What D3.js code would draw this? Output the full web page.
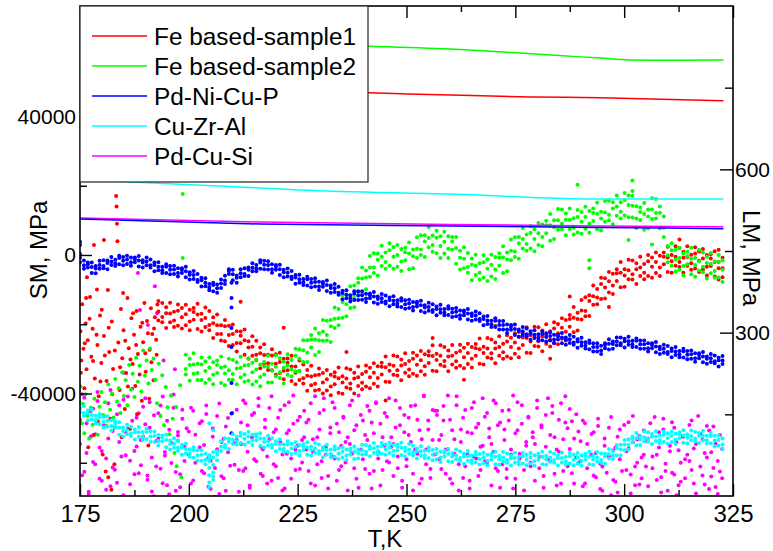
<!DOCTYPE html>
<html>
<head>
<meta charset="utf-8">
<script src="https://d3js.org/d3.v7.min.js"></script>
<style>
body { margin: 0; background: #fff; }
</style>
</head>
<body>
<div id="graph"></div>
<script>

var w = 773;
var h = 551;

// series names and colours (legend order)
var seriesNames = ["Fe based-sample1", "Fe based-sample2", "Pd-Ni-Cu-P", "Cu-Zr-Al", "Pd-Cu-Si"];
var seriesColors = ["#ff0000", "#00ff00", "#0000ff", "#00ffff", "#ff00ff"];

// axis ticks
var xTicks = [175, 200, 225, 250, 275, 300, 325];
var xMinor = [187.5, 212.5, 237.5, 262.5, 287.5, 312.5];
var smTicks = [-40000, 0, 40000];
var smMinor = [-60000, -20000, 20000, 60000];
var lmTicks = [300, 600];
var lmMinor = [150, 450, 750];

// LM, MPa (right axis) lines: [T, LM]
var lmFe1 = [[175, 752], [241.6, 740.5], [260, 736.5], [278.4, 733], [294.5, 731.5], [322.8, 726]];
var lmFe2 = [[175, 845], [200, 836], [225, 829], [241.6, 826], [260, 821], [276, 813.5], [285, 809], [294.5, 804.5], [301.3, 801], [310, 800.5], [322.8, 801]];
var lmPdNiCuP = [[175, 508.8], [216.4, 499.6], [260, 496], [294.5, 493.2], [322.8, 491]];
var lmCuZrAl = [[175, 581], [191.8, 575], [216.4, 565.7], [225.5, 562], [260, 554.5], [294.5, 545.5], [322.8, 545.5]];
var lmPdCuSi = [[175, 510.6], [216.4, 503.3], [260, 498.7], [294.5, 496], [322.8, 494.6]];

// SM (left axis) readings, in units of 1000 MPa: [T, SM, SM, ...]
var smFe1 = [
[175.1,-22.0],[175.2,-34.0],[175.3,-30.5],[175.5,-14.2],[175.8,-27.1],[176.0,-38.5],[176.1,-25.5],[176.3,-19.8],[176.4,-12.4],[176.5,-33.0],[176.6,-6.4],[176.8,-24.6],[176.9,-55.5],[177.0,-45.2],[177.2,-18.4],[177.3,-12.1],[177.6,-29.4],[177.9,-21.3],[178.0,-30.6],[178.1,-52.0],[178.2,2.9],[178.4,-35.7],[178.8,-23.0],[178.9,-10.0],[179.0,-26.0],[179.1,-48.0],[179.3,-40.8],[179.6,-17.5],[179.7,-36.5],[179.9,-31.2],[180.0,-15.8],[180.2,-57.6],[180.5,-23.4,4.3],[180.7,-29.0],[180.9,-62.5],[181.1,-36.4],[181.4,-10.1],[181.5,-64.2],[181.6,-21.0],[181.7,-28.0],[182.0,-47.3],[182.2,-67.8],[182.3,-19.2],[182.4,-40.2],[182.6,-32.9],[182.9,-60.4],[183.0,-27.6],[183.3,17.0],[183.4,14.0],[183.5,9.0],[183.6,4.0],[183.8,-25.3],[184.1,-39.0],[184.2,-32.4],[184.4,-15.6],[184.6,-52.6],[184.7,-29.8],[184.9,-11.0],[185.0,-21.7],[185.3,-44.5],[185.4,-24.8],[185.6,-34.1],[185.9,-12.4],[186.0,-38.0],[186.2,-26.9],[186.5,-50.2],[186.6,-30.2],[186.8,-18.3],[187.1,-31.5],[187.2,-16.8],[187.4,-23.0],[187.7,-37.8],[187.9,-26.0],[188.0,-16.2],[188.1,-46.0],[188.3,-28.6],[188.7,-34.5],[188.9,-20.7],[189.2,-42.1],[189.3,-19.6],[189.5,-25.2],[189.8,-13.9],[190.0,-28.4],[190.1,-33.7],[190.4,-19.1],[190.6,-22.6],[190.7,-55.0],[190.9,-41.5],[191.0,-27.4],[191.3,-15.4],[191.4,-31.0],[191.6,-22.8],[191.9,-36.2],[192.0,-21.2],[192.2,-18.0],[192.5,-24.5],[192.6,-28.8],[192.8,-14.3],
[193.0,-13.3,-18.9,-16.3],[193.9,-17.9,-13.9,-19.4],[194.8,-15.1,-21.1,-16.8],[195.7,-19.4,-16.9,-13.8],[196.6,-16.4,-18.9,-20.8],[197.5,-14.3,-16.1,-20.4],[198.4,-21.2,-18.0,-15.3],[199.3,-17.1,-20.3,-14.4],[200.2,-19.2,-15.8,-21.7],[201.1,-15.3,-18.7,-16.5],[202.0,-21.4,-17.2,-14.1],[202.9,-17.0,-22.1,-18.8],[203.8,-15.2,-20.8,-18.2],[204.7,-20.2,-16.2,-21.7],[205.6,-18.0,-24.0,-19.7],[206.5,-22.8,-20.3,-17.2],[207.4,-20.3,-22.8,-24.7],[208.3,-18.8,-20.6,-24.9],[209.2,-26.3,-23.1,-20.4],[210.1,-22.8,-26.0,-20.1],[211.0,-25.4,-22.0,-27.9],[211.9,-22.1,-25.5,-23.3,-13.5],[212.8,-28.8,-24.6,-21.5],[213.7,-24.9,-30.0,-26.7],[214.6,-23.5,-29.1,-26.5],[215.5,-28.8,-24.8,-30.3],[216.4,-26.7,-32.7,-28.4],[217.3,-31.4,-28.9,-25.8],[218.2,-28.8,-31.3,-33.2],[219.1,-27.2,-29.0,-33.3],[220.0,-34.6,-31.4,-28.7],[220.9,-30.9,-34.1,-28.2],[221.8,-33.4,-30.0,-35.9,-21.0],[222.7,-29.9,-33.3,-31.1],[223.6,-36.4,-32.2,-29.1],[224.5,-32.2,-37.3,-34.0],[225.4,-30.5,-36.1,-33.5],[226.3,-35.6,-31.6,-37.1],[227.2,-33.2,-39.2,-34.9],[228.1,-37.6,-35.1,-32.0],[229.0,-34.7,-37.2,-39.1],[229.9,-32.8,-34.6,-38.9],[230.8,-40.0,-36.8,-34.1],[231.7,-35.9,-39.1,-33.2],[232.6,-38.0,-34.6,-40.5],[233.5,-33.9,-37.3,-35.1],[234.4,-39.8,-35.6,-32.5],[235.3,-35.0,-40.1,-36.8],[236.2,-32.7,-38.3,-35.7,-28.0],[237.1,-37.1,-33.1,-38.6],[238.0,-34.0,-40.0,-35.7],[238.9,-37.8,-35.3,-32.2],[239.8,-34.4,-36.9,-38.8],[240.7,-31.9,-33.7,-38.0],[241.6,-38.5,-35.3,-32.6],[242.5,-34.0,-37.2,-31.3],[243.4,-35.5,-32.1,-38.0],[244.3,-31.1,-34.5,-32.3],[245.2,-36.6,-32.4,-29.3,-42.0],[246.1,-31.6,-36.7,-33.4],[247.0,-29.0,-34.6,-32.0],[247.9,-33.3,-29.3,-34.8],[248.8,-30.2,-36.2,-31.9],[249.7,-34.0,-31.5,-28.4],[250.6,-30.6,-33.1,-35.0],[251.5,-28.2,-30.0,-34.3],[252.4,-34.9,-31.7,-29.0],[253.3,-30.4,-33.6,-27.7],[254.2,-32.1,-28.7,-34.6],[255.1,-27.8,-31.2,-29.0],[256.0,-33.4,-29.2,-26.1,-24.0],[256.9,-28.5,-33.6,-30.3],[257.8,-26.1,-31.7,-29.1],[258.7,-30.6,-26.6,-32.1],[259.6,-27.6,-33.6,-29.3],[260.5,-31.6,-29.1,-26.0],[261.4,-28.2,-30.7,-32.6],[262.3,-25.9,-27.7,-32.0],[263.2,-32.7,-29.5,-26.8,-36.0],[264.1,-28.3,-31.5,-25.6],[265.0,-30.0,-26.6,-32.5],[265.9,-25.7,-29.1,-26.9],[266.8,-31.4,-27.2,-24.1],[267.7,-26.5,-31.6,-28.3],[268.6,-24.0,-29.6,-27.0],[269.5,-28.4,-24.4,-29.9],[270.4,-25.3,-31.3,-27.0,-20.5],[271.3,-29.1,-26.6,-23.5],[272.2,-25.6,-28.1,-30.0],[273.1,-23.2,-25.0,-29.3],[274.0,-29.8,-26.6,-23.9],[274.9,-25.3,-28.5,-22.6],[275.8,-27.0,-23.6,-29.5],[276.7,-22.6,-26.0,-23.8],[277.6,-28.2,-24.0,-20.9],[278.5,-23.2,-28.3,-25.0],[279.4,-20.7,-26.3,-23.7],[280.3,-24.9,-20.9,-26.4],[281.2,-21.8,-27.8,-23.5],[282.1,-25.6,-23.1,-20.0],[283.0,-22.0,-24.5,-26.4,-30.0],[283.9,-19.4,-21.2,-25.5],[284.8,-25.8,-22.6,-19.9],[285.7,-21.0,-24.2,-18.3],[286.6,-22.2,-18.8,-24.7],[287.5,-17.3,-20.7,-18.5,-12.0],[288.4,-22.3,-18.1,-15.0],[289.3,-16.7,-21.8,-18.5],[290.2,-13.0,-18.6,-16.0],[291.1,-16.2,-12.2,-17.7],[292.0,-11.6,-17.6,-13.3],[292.9,-14.4,-11.9,-8.8],[293.8,-9.8,-12.3,-14.2],[294.7,-6.6,-8.4,-12.7],[295.6,-12.6,-9.4,-6.7],[296.5,-7.6,-10.8,-4.9,-15.0],[297.4,-8.8,-5.4,-11.3],[298.3,-4.1,-7.5,-5.3],[299.2,-9.3,-5.1,-2.0],[300.1,-4.1,-9.2,-5.9],[301.0,-1.4,-7.0,-4.4],[301.9,-5.6,-1.6,-7.1],[302.8,-2.4,-8.4,-4.1],[303.7,-6.1,-3.6,-0.5],[304.6,-2.6,-5.1,-7.0],[305.5,0.0,-1.8,-6.1],[306.4,-6.6,-3.4,-0.7],[307.3,-2.0,-5.2,0.7],[308.2,-3.6,-0.2,-6.1],[309.1,0.7,-2.7,-0.5],[310.0,-4.9,-0.7,2.4],[310.9,0.0,-5.1,-1.8],[311.8,2.5,-3.1,-0.5],[312.7,-2.0,2.0,-3.5,4.5],[313.6,0.9,-5.1,-0.8],[314.5,-3.1,-0.6,2.5],[315.4,0.1,-2.4,-4.3],[316.3,2.2,0.4,-3.9],[317.2,-4.9,-1.7,1.0],[318.1,-1.0,-4.2,1.7],[319.0,-3.4,0.0,-5.9],[319.9,0.2,-3.2,-1.0],[320.8,-6.2,-2.0,1.1],[321.7,-2.0,-7.1,-3.8,1.5],[322.6,-0.8,-6.4,-3.8]
];

var smFe2 = [
[175.1,-38.0],[175.4,-48.6],[175.7,-43.0],[176.0,-51.5],[176.3,-40.2],[176.7,-46.4],[177.1,-53.0],[177.5,-44.1],[177.9,-49.0],[178.3,-41.5],[178.7,-47.7],[179.1,-51.9],[179.5,-43.8],[179.9,-39.6],[180.3,-46.2],[180.7,-42.5],[181.1,-49.3],[181.5,-37.4],[181.9,-44.7],[182.3,-40.1],[182.7,-46.9],[183.1,-35.8],[183.5,-42.3],[183.9,-38.5],[184.3,-45.6],[184.7,-33.9],[185.1,-40.7],[185.5,-36.2],[185.9,-43.4],[186.3,-31.8],[186.7,-38.9],[187.1,-34.3],[187.5,-41.0],[187.9,-29.7],[188.3,-36.6],[188.7,-32.0],[189.1,-39.4],[189.5,-27.6],[189.9,-34.8],[190.3,-30.5],[190.7,-37.1],[191.1,-27.0],[191.5,-33.2],[191.9,-29.9],[192.3,-36.0],[192.7,-42.8],[193.1,-31.4],[193.5,-46.5],[193.9,-34.7],[194.3,-49.2],[194.7,-38.1],[195.1,-44.0],[195.5,-51.8],[195.9,-40.6],[196.3,-47.3],[196.7,-57.2],[197.1,-43.9],[197.2,-61.0],[197.5,-53.6],[198.0,-37.6],[198.3,-64.2],[198.6,17.6,-0.9],
[199.3,-32.9,-28.8,-34.5],[200.2,-30.0,-36.3,-31.8],[201.1,-34.3,-31.6,-28.4],[202.0,-31.4,-34.1,-36.1],[202.9,-29.6,-31.6,-36.1],[203.8,-37.0,-33.5,-30.7],[204.7,-32.5,-35.9,-29.6],[205.6,-34.6,-31.0,-37.3],[206.5,-30.5,-34.1,-31.8],[207.4,-37.0,-32.5,-29.3],[208.3,-32.2,-37.6,-34.2],[209.2,-30.0,-36.0,-33.3],[210.1,-34.4,-30.3,-36.0],[211.0,-31.0,-37.3,-32.8],[211.9,-35.3,-32.6,-29.4],[212.8,-31.9,-34.6,-36.6],[213.7,-29.8,-31.8,-36.3],[214.6,-37.4,-33.9,-31.1],[215.5,-33.1,-36.5,-30.2],[216.4,-35.2,-31.6,-37.9],[217.3,-30.9,-34.5,-32.2],[218.2,-36.8,-32.3,-29.1],[219.1,-31.4,-36.8,-33.4],[220.0,-29.0,-35.0,-32.3],[220.9,-33.9,-29.8,-35.5],[221.8,-30.8,-37.1,-32.6],[222.7,-34.6,-31.9,-28.7],[223.6,-30.3,-33.0,-35.0],[224.5,-27.1,-29.1,-33.6],[225.4,-33.5,-30.0,-27.2],[226.3,-27.5,-30.9,-24.6],[227.2,-28.2,-24.6,-30.9],[228.1,-23.1,-26.7,-24.4],[229.0,-28.9,-24.4,-21.2],[229.9,-22.6,-28.0,-24.6],[230.8,-18.8,-24.8,-22.1],[231.7,-23.1,-19.0,-24.7],[232.6,-18.8,-25.1,-20.6],[233.5,-21.1,-18.4,-15.2],[234.4,-15.6,-18.3,-20.3],[235.3,-11.6,-13.6,-18.1],[236.2,-17.7,-14.2,-11.4],[237.1,-11.9,-15.3,-9.0],[238.0,-12.4,-8.8,-15.1],[238.9,-6.7,-10.3,-8.0],[239.8,-11.3,-6.8,-3.6],[240.7,-4.5,-9.9,-6.5],[241.6,-0.3,-6.3,-3.6],[242.5,-3.6,0.5,-5.2],[243.4,0.4,-5.9,-1.4],[244.3,-3.2,-0.5,2.7],[245.2,0.7,-2.0,-4.0],[246.1,3.4,1.4,-3.1],[247.0,-4.0,-0.5,2.3],[247.9,0.0,-3.4,2.9],[248.8,-1.9,1.7,-4.6],[249.7,2.1,-1.5,0.8],[250.6,-4.1,0.4,3.6],[251.5,1.6,-3.8,-0.4],[252.4,5.1,-0.9,1.8],[253.3,1.6,5.7,0.0],[254.2,5.7,-0.6,3.9],[255.1,2.2,4.9,8.1],[256.0,5.6,2.9,0.9],[256.9,7.0,5.0,0.5],[257.8,-0.9,2.6,5.4],[258.7,3.8,0.4,6.7],[259.6,1.8,5.4,-0.9],[260.5,5.2,1.6,3.9],[261.4,-2.5,2.0,5.2],[262.3,1.2,-4.2,-0.8],[263.2,2.2,-3.8,-1.1],[264.1,-3.5,0.6,-5.1],[265.0,-1.0,-7.3,-2.8],[265.9,-5.8,-3.1,0.1],[266.8,-2.4,-5.1,-7.1],[267.7,-0.1,-2.1,-6.6],[268.6,-7.5,-4.0,-1.2],[269.5,-2.8,-6.2,0.1],[270.4,-4.2,-0.6,-6.9],[271.3,0.5,-3.1,-0.8],[272.2,-5.2,-0.7,2.5],[273.1,0.7,-4.7,-1.3],[274.0,4.5,-1.5,1.2],[274.9,1.0,5.1,-0.6],[275.8,5.2,-1.1,3.4],[276.7,1.9,4.6,7.8],[277.6,5.9,3.2,1.2],[278.5,8.4,6.4,1.9],[279.4,1.1,4.6,7.4],[280.3,6.3,2.9,9.2],[281.2,5.2,8.8,2.5],[282.1,9.9,6.3,8.6],[283.0,4.1,8.6,11.8],[283.9,10.0,4.6,8.0],[284.8,13.3,7.3,10.0],[285.7,9.0,13.1,7.4],[286.6,12.0,5.7,10.2],[287.5,7.5,10.2,13.4],[288.4,10.6,7.9,5.9],[289.3,13.0,11.0,6.5,20.3],[290.2,6.1,9.6,12.4],[291.1,11.0,7.6,13.9],[292.0,9.1,12.7,6.4,-3.8,-1.5],[292.9,13.4,9.8,12.1],[293.8,7.4,11.9,15.1],[294.7,12.5,7.1,10.5],[295.6,15.6,9.6,12.3],[296.5,11.6,15.7,10.0],[297.4,15.2,8.9,13.4],[298.3,11.3,14.0,17.2],[299.2,15.2,12.5,10.5],[300.1,17.9,15.9,11.4],[301.0,10.9,14.4,17.2,4.3],[301.9,14.2,10.8,17.1,21.5,18.5],[302.8,10.5,14.1,7.8],[303.7,13.7,10.1,12.4],[304.6,7.3,11.8,15.0],[305.5,13.1,7.7,11.1],[306.4,16.4,10.4,13.1,3.0],[307.3,12.1,16.2,10.5],[308.2,14.0,7.7,12.2],[309.1,5.2,7.9,11.1],[310.0,2.6,-0.1,-2.1],[310.9,3.4,1.4,-3.1],[311.8,-4.8,-1.3,1.5],[312.7,-0.9,-4.3,2.0],[313.6,-3.2,0.4,-5.9],[314.5,0.9,-2.7,-0.4],[315.4,-5.6,-1.1,2.1],[316.3,-0.9,-6.3,-2.9],[317.2,1.5,-4.5,-1.8],[318.1,-3.4,0.7,-5.0],[319.0,-0.5,-6.8,-2.3],[319.9,-5.3,-2.6,0.6],[320.8,-1.9,-4.6,-6.6],[321.7,0.0,-2.0,-6.5],[322.6,-7.8,-4.3,-1.5]
];

var smPdNiCuP = [
[175.0,-0.8,-2.1,0.3,3.8,2.9],[175.9,-3.0,-1.6,-4.0],[176.8,-2.2,-3.6,-2.7],[177.7,-5.2,-3.5,-2.2],[178.6,-3.2,-5.3,-3.9],[179.5,-1.7,-4.0,-2.9],[180.4,-3.2,-1.5,-3.8],[181.3,-1.6,-4.1,-2.3],[182.2,-2.9,-1.9,-0.6],[183.1,-1.4,-2.4,-3.2],[184.0,-0.2,-0.9,-2.7],[184.9,-3.0,-1.7,-0.6],[185.8,-1.3,-2.6,-0.2],[186.7,-2.1,-0.7,-3.1],[187.6,-0.7,-2.1,-1.2],[188.5,-3.3,-1.6,-0.3],[189.4,-1.5,-3.6,-2.2],[190.3,-0.7,-3.0,-1.9],[191.2,-3.0,-1.3,-3.6],[192.1,-2.2,-4.7,-2.9],[193.0,-4.4,-3.4,-2.1],[193.9,-3.4,-4.4,-5.2],[194.8,-2.7,-3.4,-5.2],[195.7,-5.6,-4.3,-3.2],[196.6,-4.2,-5.5,-3.1],[197.5,-5.2,-3.8,-6.2],[198.4,-3.8,-5.2,-4.3],[199.3,-6.4,-4.7,-3.4],[200.2,-5.0,-7.1,-5.7],[201.1,-4.6,-6.9,-5.8],[202.0,-7.2,-5.5,-7.8],[202.9,-6.6,-9.1,-7.3],[203.8,-9.0,-8.0,-6.7],[204.7,-8.4,-9.4,-10.2],[205.6,-8.0,-8.7,-10.5],[206.5,-10.9,-9.6,-8.5],[207.4,-8.2,-9.5,-7.1],[208.3,-7.4,-6.0,-8.4],[209.2,-4.1,-5.5,-4.6],[209.8,-8.0,-12.4,-15.2,-21.1,-26.6,-37.0,-45.8,-51.5],[210.1,-7.3,-5.6,-4.3],[211.0,-5.9,-8.0,-6.6],[211.9,-4.1,-6.4,-5.3],[212.8,-5.5,-3.8,-6.1],[213.7,-3.6,-6.1,-4.3],[214.6,-4.7,-3.7,-2.4],[215.5,-2.9,-3.9,-4.7],[216.4,-1.5,-2.2,-4.0],[217.3,-4.1,-2.8,-1.7],[218.2,-2.9,-4.2,-1.8],[219.1,-4.1,-2.7,-5.1],[220.0,-2.9,-4.3,-3.4],[220.9,-5.8,-4.1,-2.8],[221.8,-4.3,-6.4,-5.0],[222.7,-3.9,-6.2,-5.1],[223.6,-6.3,-4.6,-6.9],[224.5,-5.8,-8.3,-6.5],[225.4,-8.0,-7.0,-5.7],[226.3,-6.9,-7.9,-8.7],[227.2,-6.3,-7.0,-8.8],[228.1,-9.3,-8.0,-6.9],[229.0,-7.8,-9.1,-6.7],[229.9,-9.1,-7.7,-10.1],[230.8,-7.8,-9.2,-8.3],[231.7,-10.4,-8.7,-7.4],[232.6,-8.8,-10.9,-9.5],[233.5,-8.4,-10.7,-9.6],[234.4,-10.9,-9.2,-11.5],[235.3,-10.3,-12.8,-11.0],[236.2,-12.5,-11.5,-10.2],[237.1,-11.6,-12.6,-13.4],[238.0,-10.5,-11.2,-13.0],[238.9,-13.0,-11.7,-10.6],[239.8,-11.6,-12.9,-10.5],[240.7,-12.6,-11.2,-13.6],[241.6,-11.1,-12.5,-11.6],[242.5,-13.7,-12.0,-10.7],[243.4,-12.0,-14.1,-12.7],[244.3,-11.3,-13.6,-12.5],[245.2,-13.4,-11.7,-14.0],[246.1,-12.3,-14.8,-13.0],[247.0,-14.2,-13.2,-11.9],[247.9,-13.1,-14.1,-14.9],[248.8,-12.5,-13.2,-15.0],[249.7,-15.5,-14.2,-13.1],[250.6,-14.0,-15.3,-12.9],[251.5,-15.0,-13.6,-16.0],[252.4,-13.5,-14.9,-14.0],[253.3,-16.2,-14.5,-13.2],[254.2,-14.5,-16.6,-15.2],[255.1,-13.8,-16.1,-15.0],[256.0,-15.9,-14.2,-16.5],[256.9,-14.9,-17.4,-15.6],[257.8,-16.7,-15.7,-14.4],[258.7,-15.6,-16.6,-17.4],[259.6,-14.8,-15.5,-17.3],[260.5,-17.9,-16.6,-15.5],[261.4,-16.4,-17.7,-15.3],[262.3,-17.4,-16.0,-18.4],[263.2,-16.0,-17.4,-16.5],[264.1,-18.6,-16.9,-15.6],[265.0,-16.9,-19.0,-17.6],[265.9,-16.3,-18.6,-17.5],[266.8,-18.5,-16.8,-19.1],[267.7,-17.8,-20.3,-18.5],[268.6,-19.9,-18.9,-17.6],[269.5,-19.0,-20.0,-20.8],[270.4,-18.3,-19.0,-20.8],[271.3,-21.5,-20.2,-19.1],[272.2,-20.2,-21.5,-19.1],[273.1,-21.5,-20.1,-22.5],[274.0,-20.2,-21.6,-20.7],[274.9,-23.1,-21.4,-20.1],[275.8,-21.5,-23.6,-22.2],[276.7,-20.8,-23.1,-22.0],[277.6,-22.9,-21.2,-23.5],[278.5,-22.0,-24.5,-22.7],[279.4,-24.0,-23.0,-21.7],[280.3,-22.9,-23.9,-24.7],[281.2,-22.1,-22.8,-24.6],[282.1,-25.0,-23.7,-22.6],[283.0,-23.4,-24.7,-22.3],[283.9,-24.4,-23.0,-25.4],[284.8,-23.0,-24.4,-23.5],[285.7,-25.5,-23.8,-22.5],[286.6,-23.8,-25.9,-24.5],[287.5,-23.1,-25.4,-24.3],[288.4,-25.3,-23.6,-25.9],[289.3,-24.3,-26.8,-25.0],[290.2,-26.2,-25.2,-23.9],[291.1,-25.2,-26.2,-27.0],[292.0,-24.7,-25.4,-27.2],[292.9,-27.9,-26.6,-25.5],[293.8,-26.6,-27.9,-25.5],[294.7,-27.6,-26.2,-28.6],[295.6,-25.5,-26.9,-26.0],[296.5,-27.3,-25.6,-24.3],[297.4,-25.0,-27.1,-25.7],[298.3,-23.8,-26.1,-25.0],[299.2,-25.5,-23.8,-26.1],[300.1,-24.2,-26.7,-24.9],[301.0,-25.9,-24.9,-23.6],[301.9,-24.8,-25.8,-26.6],[302.8,-24.1,-24.8,-26.6],[303.7,-27.1,-25.8,-24.7],[304.6,-25.8,-27.1,-24.7],[305.5,-26.9,-25.5,-27.9],[306.4,-25.5,-26.9,-26.0],[307.3,-28.1,-26.4,-25.1],[308.2,-26.5,-28.6,-27.2],[309.1,-25.9,-28.2,-27.1],[310.0,-28.0,-26.3,-28.6],[310.9,-27.0,-29.5,-27.7],[311.8,-28.9,-27.9,-26.6],[312.7,-27.7,-28.7,-29.5],[313.6,-27.1,-27.8,-29.6],[314.5,-30.1,-28.8,-27.7],[315.4,-28.7,-30.0,-27.6],[316.3,-29.8,-28.4,-30.8],[317.2,-28.4,-29.8,-28.9],[318.1,-31.0,-29.3,-28.0],[319.0,-29.3,-31.4,-30.0],[319.9,-28.6,-30.9,-29.8],[320.8,-30.7,-29.0,-31.3],[321.7,-29.7,-32.2,-30.4],[322.6,-31.5,-30.5,-29.2]
];

var smCuZrAl = [
[175.0,-42.6,-45.4,-44.2],[175.9,-45.6,-43.7,-46.4],[176.8,-44.9,-47.8,-45.7],[177.7,-47.5,-46.2,-44.7],[178.6,-46.4,-47.7,-48.6],[179.5,-45.9,-46.8,-48.9],[180.4,-49.8,-48.2,-46.8],[181.3,-47.9,-49.6,-46.6],[182.2,-49.4,-47.7,-50.7],[183.1,-48.1,-49.8,-48.7],[184.0,-51.9,-49.8,-48.3],[184.9,-49.8,-52.4,-50.8],[185.8,-49.0,-51.8,-50.6],[186.7,-51.5,-49.6,-52.3],[187.6,-50.4,-53.3,-51.2],[188.5,-52.5,-51.2,-49.7],[189.4,-51.1,-52.4,-53.3],[190.3,-50.2,-51.1,-53.2],[191.2,-54.0,-52.4,-51.0],[192.1,-52.3,-54.0,-51.0],[193.0,-53.7,-52.0,-55.0],[193.9,-52.1,-53.8,-52.7],[194.8,-55.5,-53.4,-51.9],[195.7,-53.6,-56.2,-54.6],[196.6,-52.9,-55.7,-54.5],[197.5,-55.7,-53.8,-56.5],[198.4,-54.8,-57.7,-55.6],[199.3,-57.3,-56.0,-54.5],[200.2,-56.1,-57.4,-58.3],[201.1,-55.5,-56.4,-58.5],[202.0,-59.4,-57.8,-56.4],[202.9,-57.7,-59.4,-56.4],[203.8,-59.1,-57.4,-60.4],[204.7,-57.8,-59.5,-58.4,-63.6,-65.7,-67.0,-61.5,-48.6],[205.6,-60.6,-58.5,-57.0,-64.0,-62.8,-65.0,-50.6],[206.5,-56.7,-59.3,-57.7],[207.4,-53.8,-56.6,-55.4],[208.3,-54.8,-52.9,-55.6],[209.2,-53.1,-56.0,-53.9],[210.1,-54.6,-53.3,-51.8],[211.0,-52.5,-53.8,-54.7],[211.9,-51.3,-52.2,-54.3],[212.8,-54.7,-53.1,-51.7],[213.7,-52.4,-54.1,-51.1],[214.6,-53.6,-51.9,-54.9],[215.5,-51.8,-53.5,-52.4],[216.4,-55.1,-53.0,-51.5],[217.3,-53.0,-55.6,-54.0],[218.2,-52.2,-55.0,-53.8],[219.1,-54.8,-52.9,-55.6],[220.0,-53.8,-56.7,-54.6],[220.9,-56.0,-54.7,-53.2],[221.8,-54.7,-56.0,-56.9],[222.7,-53.8,-54.7,-56.8],[223.6,-57.5,-55.9,-54.5],[224.5,-55.4,-57.1,-54.1],[225.4,-56.6,-54.9,-57.9],[226.3,-54.6,-56.3,-55.2],[227.2,-57.7,-55.6,-54.1],[228.1,-55.3,-57.9,-56.3],[229.0,-54.3,-57.1,-55.9],[229.9,-56.6,-54.7,-57.4],[230.8,-55.5,-58.4,-56.3],[231.7,-57.6,-56.3,-54.8],[232.6,-56.2,-57.5,-58.4],[233.5,-55.3,-56.2,-58.3],[234.4,-58.9,-57.3,-55.9],[235.3,-56.8,-58.5,-55.5],[236.2,-57.9,-56.2,-59.2],[237.1,-55.9,-57.6,-56.5],[238.0,-58.9,-56.8,-55.3],[238.9,-56.2,-58.8,-57.2],[239.8,-54.8,-57.6,-56.4],[240.7,-56.8,-54.9,-57.6],[241.6,-55.2,-58.1,-56.0],[242.5,-57.1,-55.8,-54.3],[243.4,-55.4,-56.7,-57.6],[244.3,-54.3,-55.2,-57.3],[245.2,-57.7,-56.1,-54.7],[246.1,-55.5,-57.2,-54.2],[247.0,-56.6,-54.9,-57.9],[247.9,-54.7,-56.4,-55.3],[248.8,-57.8,-55.7,-54.2],[249.7,-55.6,-58.2,-56.6],[250.6,-54.6,-57.4,-56.2],[251.5,-57.0,-55.1,-57.8],[252.4,-55.9,-58.8,-56.7],[253.3,-58.0,-56.7,-55.2],[254.2,-56.5,-57.8,-58.7],[255.1,-55.6,-56.5,-58.6],[256.0,-59.3,-57.7,-56.3],[256.9,-57.3,-59.0,-56.0],[257.8,-58.5,-56.8,-59.8],[258.7,-56.5,-58.2,-57.1],[259.6,-59.6,-57.5,-56.0],[260.5,-57.2,-59.8,-58.2],[261.4,-56.2,-59.0,-57.8],[262.3,-58.6,-56.7,-59.4],[263.2,-57.4,-60.3,-58.2],[264.1,-59.4,-58.1,-56.6],[265.0,-57.9,-59.2,-60.1],[265.9,-56.9,-57.8,-59.9],[266.8,-60.5,-58.9,-57.5],[267.7,-58.4,-60.1,-57.1],[268.6,-59.4,-57.7,-60.7],[269.5,-57.4,-59.1,-58.0],[270.4,-60.4,-58.3,-56.8],[271.3,-58.0,-60.6,-59.0],[272.2,-56.9,-59.7,-58.5],[273.1,-59.2,-57.3,-60.0],[274.0,-57.9,-60.8,-58.7],[274.9,-59.9,-58.6,-57.1],[275.8,-58.3,-59.6,-60.5],[276.7,-57.2,-58.1,-60.2],[277.6,-60.7,-59.1,-57.7],[278.5,-58.5,-60.2,-57.2],[279.4,-59.5,-57.8,-60.8],[280.3,-57.4,-59.1,-58.0],[281.2,-60.4,-58.3,-56.8],[282.1,-58.0,-60.6,-59.0],[283.0,-56.9,-59.7,-58.5],[283.9,-59.2,-57.3,-60.0],[284.8,-57.9,-60.8,-58.7],[285.7,-59.9,-58.6,-57.1],[286.6,-58.3,-59.6,-60.5],[287.5,-57.2,-58.1,-60.2],[288.4,-60.7,-59.1,-57.7],[289.3,-58.5,-60.2,-57.2],[290.2,-59.5,-57.8,-60.8],[291.1,-57.4,-59.1,-58.0],[292.0,-60.4,-58.3,-56.8],[292.9,-58.0,-60.6,-59.0],[293.8,-56.9,-59.7,-58.5],[294.7,-59.2,-57.3,-60.0],[295.6,-57.4,-60.3,-58.2],[296.5,-58.8,-57.5,-56.0],[297.4,-56.7,-58.0,-58.9],[298.3,-54.9,-55.8,-57.9],[299.2,-57.8,-56.2,-54.8],[300.1,-54.7,-56.4,-53.4],[301.0,-54.9,-53.2,-56.2],[301.9,-52.4,-54.1,-53.0],[302.8,-55.0,-52.9,-51.4],[303.7,-52.3,-54.9,-53.3],[304.6,-51.0,-53.8,-52.6],[305.5,-53.1,-51.2,-53.9],[306.4,-51.7,-54.6,-52.5],[307.3,-53.7,-52.4,-50.9],[308.2,-52.1,-53.4,-54.3],[309.1,-51.0,-51.9,-54.0],[310.0,-54.5,-52.9,-51.5],[310.9,-52.3,-54.0,-51.0],[311.8,-53.3,-51.6,-54.6],[312.7,-51.2,-52.9,-51.8],[313.6,-54.2,-52.1,-50.6],[314.5,-51.8,-54.4,-52.8],[315.4,-50.7,-53.5,-52.3],[316.3,-53.0,-51.1,-53.8],[317.2,-51.4,-54.3,-52.2],[318.1,-53.6,-52.3,-50.8],[319.0,-52.2,-53.5,-54.4],[319.9,-51.4,-52.3,-54.4],[320.8,-55.2,-53.6,-52.2],[321.7,-53.4,-55.1,-52.1],[322.6,-54.7,-53.0,-56.0]
];

var smPdCuSi = [
[175.0,-47.6,-54.6],[175.5,-63.6,-40.2],[176.0,-41.2,-62.6],[176.5,-57.2,-48.6],[177.0,-68.4,-69.0],[177.5,-52.4,-45.0],[178.0,-44.4,-59.8],[178.5,-60.4,-51.8],[179.0,-39.6,-42.2],[179.5,-55.6,-64.6],[180.0,-65.2,-56.6],[180.5,-49.2,-46.6],[181.0,-58.8,-67.8],[181.5,-42.8,-53.0],[182.0,-66.8,-39.0],[182.5,-50.8,-61.4],[183.0,-62.0,-49.8],[183.5,-46.0,-65.8],[184.0,-54.0,-43.4],[184.5,-70.0,-58.2],[185.0,-41.8,-69.4,-34.0],[185.5,-57.8,-51.1],[186.0,-50.2,-40.9],[186.5,-66.2,-59.4],[187.0,-38.6,-47.9],[187.5,-56.6,-63.3],[188.0,-47.0,-55.3],[188.3,-5.2],[188.5,-63.0,-45.7],[188.8,-15.9],[189.0,-53.4,-60.7],[189.5,-43.8,-52.4],[190.0,-48.9,-41.4],[190.5,-64.9,-63.7],[190.6,-20.2],[191.0,-42.5,-49.9],[191.5,-58.5,-68.3],[192.0,-69.7,-46.3],[192.2,-9.0],[192.5,-53.7,-61.1],[192.7,-16.8],[193.0,-45.7,-53.1],[193.5,-61.7,-43.5],[194.0,-40.9,-65.9],[194.2,-30.5],[194.5,-56.9,-57.9],[195.0,-66.5,-47.9],[195.5,-50.5,-69.1],[196.0,-60.1,-54.3],[196.5,-44.1,-40.3],[196.8,-33.0],[197.0,-68.1,-62.7],[197.5,-52.1,-51.1],[198.0,-63.3,-67.1],[198.5,-47.3,-44.7],[199.0,-55.3,-59.5],[199.5,-71.3,-50.0],
[200.0,-51.0,-57.6],[200.5,-66.0,-44.1],[201.0,-45.0,-65.1],[201.5,-60.0,-51.9],[202.0,-70.5,-71.1],[202.5,-55.5,-48.6],[203.0,-48.0,-62.4],[203.5,-63.0,-54.9],[204.0,-43.5,-45.9],[204.5,-58.5,-66.9],[205.0,-67.5,-59.4],[205.5,-52.5,-50.1],[206.0,-61.5,-69.9],[206.5,-46.5,-56.1],[207.0,-69.0,-42.9],[207.5,-54.0,-63.9],[208.0,-64.5,-53.1],[208.5,-49.5,-68.1],[209.0,-57.0,-47.1],[209.5,-72.0,-60.9],[210.0,-45.6,-71.4],[210.5,-60.6,-54.3],[211.0,-53.4,-44.7],[211.5,-68.4,-62.1],
[212.0,-48.4,-54.6],[212.5,-62.4,-42.0],[213.0,-42.8,-61.6],[213.5,-56.8,-49.2],[214.0,-66.6,-67.2],[214.5,-52.6,-46.2],[215.0,-45.6,-59.0],[215.5,-59.6,-52.0],[216.0,-41.4,-43.6],[216.5,-55.4,-63.2],[217.0,-63.8,-56.2],[217.5,-49.8,-47.6],[218.0,-58.2,-66.0],[218.5,-44.2,-53.2],[219.0,-65.2,-40.8],[219.5,-51.2,-60.4],[220.0,-61.0,-50.4],[220.5,-47.0,-64.4],[221.0,-54.0,-44.8],[221.5,-68.0,-57.6],[222.0,-43.4,-67.4],[222.5,-57.4,-51.5],[223.0,-50.6,-42.5],[223.5,-64.6,-58.8],[224.0,-40.6,-48.7],[224.5,-56.2,-62.1],[225.0,-47.8,-55.1],[225.5,-61.8,-46.7],[226.0,-53.4,-59.9],[226.5,-45.0,-52.6],
[227.0,-48.4,-56.2],[227.5,-62.4,-47.6],[228.0,-42.8,-66.0],[228.5,-56.8,-53.2],[229.0,-66.6,-40.8],[229.5,-52.6,-60.4],[230.0,-45.6,-50.4],[230.5,-59.6,-64.4],[231.0,-41.4,-44.8],[231.5,-55.4,-57.6],[232.0,-63.8,-67.4],[232.5,-49.8,-51.5],[233.0,-58.2,-42.5],[233.5,-44.2,-58.8],[234.0,-65.2,-48.7],[234.5,-51.2,-62.1],[235.0,-61.0,-55.1],[235.5,-47.0,-46.7],[236.0,-54.0,-59.9],[236.5,-68.0,-52.6],[237.0,-43.4,-54.6],[237.5,-57.4,-42.0],[238.0,-50.6,-61.6],[238.5,-64.6,-49.2],[239.0,-40.6,-67.2],[239.5,-56.2,-46.2],[240.0,-47.8,-59.0],[240.5,-61.8,-52.0],[241.0,-53.4,-43.6],[241.5,-45.0,-63.2],
[242.0,-48.4,-67.4],[242.5,-62.4,-51.5],[243.0,-42.8,-42.5],[243.5,-56.8,-58.8],[244.0,-66.6,-48.7],[244.5,-52.6,-62.1],[245.0,-45.6,-55.1],[245.5,-59.6,-46.7],[246.0,-41.4,-59.9],[246.5,-55.4,-52.6],[247.0,-63.8,-54.6],[247.5,-49.8,-42.0],[248.0,-58.2,-61.6],[248.5,-44.2,-49.2],[249.0,-65.2,-67.2],[249.5,-51.2,-46.2],[250.0,-61.0,-59.0],[250.5,-47.0,-52.0],[251.0,-54.0,-43.6],[251.5,-68.0,-63.2],[252.0,-43.4,-56.2],[252.5,-57.4,-47.6],[253.0,-50.6,-66.0],[253.5,-64.6,-53.2],[254.0,-40.6,-40.8],[254.5,-56.2,-60.4],[255.0,-47.8,-50.4],[255.5,-61.8,-64.4],[256.0,-53.4,-44.8],[256.5,-45.0,-57.6],
[257.0,-45.0,-46.2],[257.5,-53.4,-59.0],[258.0,-61.8,-52.0],[258.5,-47.8,-43.6],[259.0,-56.2,-63.2],[259.5,-40.6,-56.2],[260.0,-64.6,-47.6],[260.5,-50.6,-66.0],[261.0,-57.4,-53.2],[261.5,-43.4,-40.8],[262.0,-68.0,-60.4],[262.5,-54.0,-50.4],[263.0,-47.0,-64.4],[263.5,-61.0,-44.8],[264.0,-51.2,-57.6],[264.5,-65.2,-67.4],[265.0,-44.2,-51.5],[265.5,-58.2,-42.5],[266.0,-49.8,-58.8],[266.5,-63.8,-48.7],[267.0,-55.4,-62.1],[267.5,-41.4,-55.1],[268.0,-59.6,-46.7],[268.5,-45.6,-59.9],[269.0,-52.6,-50.1],[269.5,-66.6,-54.6],[270.0,-56.8,-42.0],[270.5,-42.8,-61.6],[271.0,-62.4,-49.2],[271.5,-48.4,-67.2],
[272.0,-45.0,-60.4],[272.5,-53.4,-50.4],[273.0,-61.8,-64.4],[273.5,-47.8,-44.8],[274.0,-56.2,-57.6],[274.5,-40.6,-67.4],[275.0,-64.6,-51.5],[275.5,-50.6,-42.5],[276.0,-57.4,-58.8],[276.5,-43.4,-48.7],[277.0,-68.0,-62.1],[277.5,-54.0,-55.1],[278.0,-47.0,-46.7],[278.5,-61.0,-59.9],[279.0,-51.2,-52.6],[279.5,-65.2,-54.6],[280.0,-44.2,-42.0],[280.5,-58.2,-61.6],[281.0,-49.8,-49.2],[281.5,-63.8,-67.2],[282.0,-55.4,-46.2],[282.5,-41.4,-59.0],[283.0,-59.6,-52.0],[283.5,-45.6,-43.6],[284.0,-52.6,-63.2],[284.5,-66.6,-56.2],[285.0,-56.8,-47.6],[285.5,-42.8,-66.0],[286.0,-62.4,-53.2],[286.5,-48.4,-40.8],
[287.0,-50.0,-61.0],[287.5,-44.5,-56.0],[288.0,-63.0,-48.0],[288.5,-53.0,-66.0],[289.0,-46.0,-58.5],[289.5,-60.0,-51.0],
[290.0,-53.8,-59.5],[290.5,-66.8,-47.8],[291.0,-48.6,-66.0],[291.5,-61.6,-54.6],[292.0,-70.7,-71.2],[292.5,-57.7,-51.7],[293.0,-51.2,-63.7],[293.5,-64.2,-57.2],[294.0,-47.3,-49.4],[294.5,-60.3,-67.6],[295.0,-68.1,-61.1],[295.5,-55.1,-53.0],[296.0,-62.9,-70.2],[296.5,-49.9,-58.2],[297.0,-69.4,-46.8],[297.5,-56.4,-65.0],[298.0,-65.5,-55.6],[298.5,-52.5,-68.6],[299.0,-59.0,-50.4],[299.5,-72.0,-62.4],[300.0,-49.1,-71.5],[300.5,-62.1,-56.7],[301.0,-55.9,-48.3],[301.5,-68.9,-63.4],[302.0,-46.5,-54.1],[302.5,-61.1,-66.5],[303.0,-53.3,-60.0],[303.5,-66.3,-52.2],[304.0,-58.5,-64.5],[304.5,-50.7,-57.7],
[305.0,-53.8,-61.1],[305.5,-66.8,-53.0],[306.0,-48.6,-70.2],[306.5,-61.6,-58.2],[307.0,-70.7,-46.8],[307.5,-57.7,-65.0],[308.0,-51.2,-55.6],[308.5,-64.2,-68.6],[309.0,-47.3,-50.4],[309.5,-60.3,-62.4],[310.0,-68.1,-71.5],[310.5,-55.1,-56.7],[311.0,-62.9,-48.3],[311.5,-49.9,-63.4],[312.0,-69.4,-54.1],[312.5,-56.4,-66.5],[313.0,-65.5,-60.0],[313.5,-52.5,-52.2],[314.0,-59.0,-64.5],[314.5,-72.0,-57.7],[315.0,-49.1,-59.5],[315.5,-62.1,-47.8],[316.0,-55.9,-66.0],[316.5,-68.9,-54.6],[317.0,-46.5,-71.2],[317.5,-61.1,-51.7],[318.0,-53.3,-63.7],[318.5,-66.3,-57.2],[319.0,-58.5,-49.4],[319.5,-50.7,-67.6],
[320.0,-57.0,-64.0],[320.5,-49.5,-61.5],[321.0,-67.0,-54.5],[321.5,-59.5,-69.0],[322.0,-52.0,-62.5],[322.5,-64.5,-56.0]
];

var font = "'Liberation Sans', Arial, Helvetica, sans-serif";

var svg = d3.select("#graph")
  .append("svg")
  .attr("width", w)
  .attr("height", h)
  .style("display", "block");

var x = d3.scaleLinear().domain([175, 325]).range([80, 733]);
var ySM = d3.scaleLinear().domain([-69600, 71900]).range([496, 6]);
var yLM = d3.scaleLinear().domain([0, 900]).range([496, 6]);

svg.append("defs").append("clipPath").attr("id", "clip")
  .append("rect").attr("x", 80).attr("y", 6).attr("width", 653).attr("height", 490);

var plot = svg.append("g").attr("clip-path", "url(#clip)");

// scatter, back to front
function drawDots(rows, color) {
  var pts = [];
  rows.forEach(function(r) {
    for (var i = 1; i < r.length; i++) pts.push([r[0], r[i]]);
  });
  plot.append("g")
    .selectAll("circle")
    .data(pts)
    .enter()
    .append("circle")
    .attr("cx", function(d) { return x(d[0]); })
    .attr("cy", function(d) { return ySM(d[1] * 1000); })
    .attr("r", 2)
    .attr("fill", color);
}
drawDots(smPdCuSi, seriesColors[4]);
drawDots(smFe1, seriesColors[0]);
drawDots(smFe2, seriesColors[1]);
drawDots(smPdNiCuP, seriesColors[2]);
drawDots(smCuZrAl, seriesColors[3]);

// LM lines on top
var line = d3.line()
  .x(function(d) { return x(d[0]); })
  .y(function(d) { return yLM(d[1]); })
  .curve(d3.curveMonotoneX);
[[lmCuZrAl, 3], [lmFe1, 0], [lmFe2, 1], [lmPdCuSi, 4], [lmPdNiCuP, 2]].forEach(function(s) {
  plot.append("path")
    .attr("d", line(s[0]))
    .attr("fill", "none")
    .attr("stroke", seriesColors[s[1]])
    .attr("stroke-width", 1.5);
});

// axes (ticks point inward)
function plain(d) { return String(d); }
function styleAxis(g, size) {
  g.select(".domain").remove();
  g.attr("font-family", font).attr("font-size", size);
  g.selectAll("line").attr("stroke", "#000").attr("stroke-width", 1.4);
  g.selectAll("text").attr("fill", "#000");
}
svg.append("g").attr("transform", "translate(0,496)")
  .call(d3.axisBottom(x).tickValues(xTicks).tickSize(-12).tickPadding(9).tickFormat(plain))
  .call(styleAxis, 24);
svg.append("g").attr("transform", "translate(0,496)")
  .call(d3.axisBottom(x).tickValues(xMinor).tickSize(-6).tickFormat(""))
  .call(styleAxis, 24);
svg.append("g").attr("transform", "translate(0,6)")
  .call(d3.axisTop(x).tickValues(xTicks).tickSize(-12).tickFormat(""))
  .call(styleAxis, 24);
svg.append("g").attr("transform", "translate(0,6)")
  .call(d3.axisTop(x).tickValues(xMinor).tickSize(-6).tickFormat(""))
  .call(styleAxis, 24);
svg.append("g").attr("transform", "translate(80,0)")
  .call(d3.axisLeft(ySM).tickValues(smTicks).tickSize(-12).tickPadding(4).tickFormat(plain))
  .call(styleAxis, 21);
svg.append("g").attr("transform", "translate(80,0)")
  .call(d3.axisLeft(ySM).tickValues(smMinor).tickSize(-7).tickFormat(""))
  .call(styleAxis, 21);
svg.append("g").attr("transform", "translate(733,0)")
  .call(d3.axisRight(yLM).tickValues(lmTicks).tickSize(-13).tickPadding(2).tickFormat(plain))
  .call(styleAxis, 21);
svg.append("g").attr("transform", "translate(733,0)")
  .call(d3.axisRight(yLM).tickValues(lmMinor).tickSize(-8).tickFormat(""))
  .call(styleAxis, 21);

// frame
svg.append("rect")
  .attr("x", 80).attr("y", 6).attr("width", 653).attr("height", 490)
  .attr("fill", "none").attr("stroke", "#000").attr("stroke-width", 1.6);

// axis titles
svg.append("text")
  .attr("x", 385).attr("y", 547)
  .attr("text-anchor", "middle")
  .attr("font-family", font).attr("font-size", 24)
  .text("T,K");
svg.append("text")
  .attr("transform", "translate(47,250) rotate(-90)")
  .attr("text-anchor", "middle")
  .attr("font-family", font).attr("font-size", 24)
  .text("SM, MPa");
svg.append("text")
  .attr("transform", "translate(743,258) rotate(90)")
  .attr("text-anchor", "middle")
  .attr("font-family", font).attr("font-size", 24)
  .text("LM, MPa");

// legend
var legend = svg.append("g");
legend.append("rect")
  .attr("x", 80).attr("y", 6).attr("width", 288).attr("height", 176)
  .attr("fill", "#fff").attr("stroke", "#333").attr("stroke-width", 1.3);
var items = legend.selectAll(".item")
  .data(seriesNames)
  .enter()
  .append("g")
  .attr("transform", function(d, i) { return "translate(0," + (36 + i * 30) + ")"; });
items.append("line")
  .attr("x1", 92).attr("x2", 147)
  .attr("stroke", function(d, i) { return seriesColors[i]; })
  .attr("stroke-width", 1.5);
items.append("text")
  .attr("x", 154).attr("y", 8.5)
  .attr("font-family", font).attr("font-size", 24.4)
  .text(function(d) { return d; });

</script>
</body>
</html>
